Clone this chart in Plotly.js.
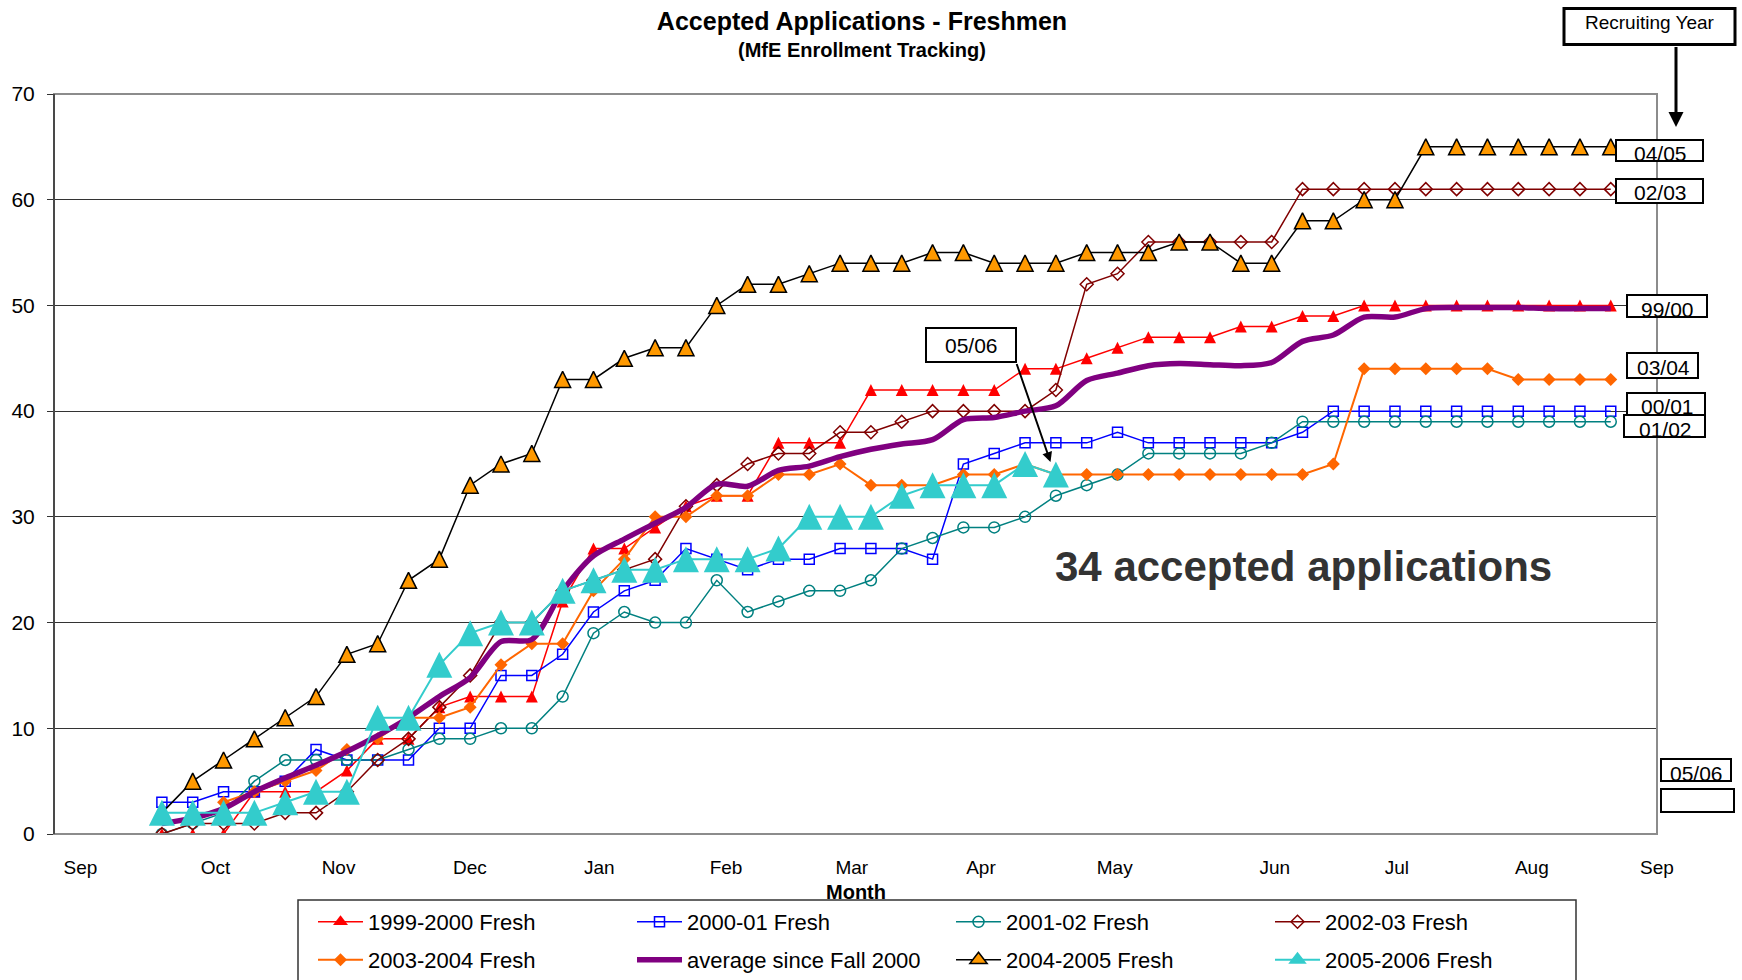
<!DOCTYPE html>
<html><head><meta charset="utf-8">
<script src="https://cdn.plot.ly/plotly-3.0.1.min.js"></script>
<style>html,body{margin:0;padding:0;background:#fff;} #chart{width:1742px;height:980px;}</style>
</head><body><div id="chart"></div>
<script>
// ---------- data (week index of the recruiting year, Sep = 0) ----------
const weeks = [3,4,5,6,7,8,9,10,11,12,13,14,15,16,17,18,19,20,21,22,23,24,25,26,27,28,29,30,31,32,33,34,35,36,37,38,39,40,41,42,43,44,45,46,47,48,49,50];
const monthLabels = ['Sep','Oct','Nov','Dec','Jan','Feb','Mar','Apr','May','Jun','Jul','Aug','Sep'];
const monthPos = [0.36,4.74,8.73,12.99,17.19,21.3,25.38,29.57,33.91,39.1,43.06,47.44,51.5];

const fresh9900 = [0,0,0,4,4,4,6,9,9,12, 13,13,13,22,27,27,29,31,32,32, 37,37,37,42,42,42,42,42,44,44, 45,46,47,47,47,48,48,49,49,50, 50,50,50,50,50,50,50,50];
const fresh0001 = [3,3,4,4,5,8,7,7,7,10, 10,15,15,17,21,23,24,27,26,25, 26,26,27,27,27,26,35,36,37,37, 37,38,37,37,37,37,37,38,40,40, 40,40,40,40,40,40,40,40];
const fresh0102 = [0,1,2,5,7,7,7,7,8,9, 9,10,10,13,19,21,20,20,24,21, 22,23,23,24,27,28,29,29,30,32, 33,34,36,36,36,36,37,39,39,39, 39,39,39,39,39,39,39,39];
const fresh0203 = [0,1,1,1,2,2,4,7,9,12, 15,20,20,23,24,25,26,31,33,35, 36,36,38,38,39,40,40,40,40,42, 52,53,56,56,56,56,56,61,61,61, 61,61,61,61,61,61,61,61];
const fresh0304 = [null,null,3,4,5,6,8,9,11,11, 12,16,18,18,23,26,30,30,32,32, 34,34,35,33,33,33,34,34,35,34, 34,34,34,34,34,34,34,34,35,44, 44,44,44,44,43,43,43,43];
const avgSince2000 = [1.0,1.5,2.4,4.0,5.3,6.5,7.8,9.3,11.0,13.0, 14.8,18.2,18.4,23.0,26.3,27.9,29.4,30.9,33.1,32.9, 34.4,34.8,35.7,36.4,36.9,37.3,39.2,39.4,40.0,40.5, 42.9,43.6,44.3,44.5,44.4,44.3,44.6,46.6,47.2,48.9, 48.9,49.7,49.8,49.8,49.8,49.7,49.7,49.7];
const fresh0405 = [2,5,7,9,11,13,17,18,24,26, 33,35,36,43,43,45,46,46,50,52, 52,53,54,54,54,55,55,54,54,54, 55,55,55,56,56,54,54,58,58,60, 60,65,65,65,65,65,65,65];
const fresh0506 = [2,2,2,2,3,4,4,11,11,16, 19,20,20,23,24,25,25,26,26,26, 27,30,30,30,32,33,33,33,35,34, null,null,null,null,null,null,null,null,null,null, null,null,null,null,null,null,null,null];

const seriesNames = ['1999-2000 Fresh','2000-01 Fresh','2001-02 Fresh','2002-03 Fresh','2003-2004 Fresh','average since Fall 2000','2004-2005 Fresh','2005-2006 Fresh'];
const seriesValues = [fresh9900, fresh0001, fresh0102, fresh0203, fresh0304, avgSince2000, fresh0405, fresh0506];

// ---------- helpers ----------
const FONT = 'Liberation Sans, Arial, sans-serif';
const L = 54, R = 85, T = 94, B = 146, W = 1742, H = 980;
const PW = W - L - R, PH = H - T - B;
const PX = x => (x - L) / PW;
const PY = y => (H - B - y) / PH;
// Excel-like upright triangle centred on the point
function tri(size) { return {symbol: 'arrow-down', angle: 180, standoff: size / 2, size: size}; }

const styles = [
  {mode: 'lines+markers', line: {color: '#FF0000', width: 1.5}, marker: Object.assign(tri(12), {color: '#FF0000'}),
   legMarker: {symbol: 'triangle-up', size: 13, color: '#FF0000'}, legend: 'legend'},
  {mode: 'lines+markers', line: {color: '#0000FF', width: 1.5}, marker: {symbol: 'square-open', size: 10, color: '#0000FF', line: {color: '#0000FF', width: 1.5}}, legend: 'legend'},
  {mode: 'lines+markers', line: {color: '#008080', width: 1.5}, marker: {symbol: 'circle-open', size: 11, color: '#008080', line: {color: '#008080', width: 1.5}}, legend: 'legend'},
  {mode: 'lines+markers', line: {color: '#800000', width: 1.5}, marker: {symbol: 'diamond-open', size: 10, color: '#800000', line: {color: '#800000', width: 1.5}}, legend: 'legend'},
  {mode: 'lines+markers', line: {color: '#FF6600', width: 2}, marker: {symbol: 'diamond', size: 10, color: '#FF6600'}, legend: 'legend2'},
  {mode: 'lines', line: {color: '#800080', width: 5.5, shape: 'spline', smoothing: 0.8}, legend: 'legend2'},
  {mode: 'lines+markers', line: {color: '#000000', width: 1.5}, marker: Object.assign(tri(16), {color: '#FF9900', line: {color: '#000000', width: 1.5}}),
   legMarker: {symbol: 'triangle-up', size: 15, color: '#FF9900', line: {color: '#000000', width: 1.5}}, legend: 'legend2'},
  {mode: 'lines+markers', line: {color: '#33CCCC', width: 2}, marker: Object.assign(tri(26), {color: '#33CCCC'}),
   legMarker: {symbol: 'triangle-up', size: 16, color: '#33CCCC'}, legend: 'legend2'}
];

const traces = [];
seriesNames.forEach((name, k) => {
  const s = styles[k];
  const t = {name: name, x: weeks, y: seriesValues[k], mode: s.mode, line: s.line, showlegend: false, legendgroup: name};
  if (s.marker) t.marker = s.marker;
  traces.push(t);
});
// legend entries (no data drawn; they only carry the legend symbols)
seriesNames.forEach((name, k) => {
  const s = styles[k];
  const t = {name: name, x: [null], y: [null], mode: s.mode, line: s.line, legend: s.legend, showlegend: true, legendgroup: name};
  const m = s.legMarker || s.marker;
  if (m) t.marker = m;
  traces.push(t);
});

function box(x0, y0, x1, y1, w) {
  return {type: 'rect', xref: 'paper', yref: 'paper', x0: PX(x0), x1: PX(x1), y0: PY(y1), y1: PY(y0),
          line: {color: '#000', width: w || 2}, fillcolor: '#fff', layer: 'above'};
}
function label(text, x, y, size, extra) {
  return Object.assign({text: text, xref: 'paper', yref: 'paper', x: PX(x), y: PY(y), xanchor: 'center', yanchor: 'middle',
          showarrow: false, font: {family: FONT, size: size, color: '#000'}}, extra || {});
}
function arrow(xh, yh, xt, yt, w) {
  return {text: ' ', xref: 'paper', yref: 'paper', x: PX(xh), y: PY(yh), ax: xt - xh, ay: yt - yh,
          showarrow: true, arrowhead: 2, arrowsize: 1, arrowwidth: w, arrowcolor: '#000', font: {size: 1}};
}

const shapes = [
  {type: 'rect', xref: 'paper', yref: 'paper', x0: 0, x1: 1, y0: 0, y1: 1, line: {color: '#8c8c8c', width: 2}, layer: 'above'},
  {type: 'line', xref: 'paper', yref: 'paper', x0: 0, x1: 0, y0: 0, y1: 1, line: {color: '#333', width: 1.5}, layer: 'above'},
  box(1564, 8.5, 1735, 44.5, 3),
  box(1616, 140, 1703, 161),
  box(1616, 179, 1703, 203),
  box(1627, 295, 1707, 317),
  box(1627, 353, 1698, 378),
  box(1627, 393, 1705, 415),
  box(1624, 415, 1705, 437),
  box(1661, 759, 1731, 781),
  box(1661, 789, 1734, 812),
  box(926, 328, 1016, 362),
  {type: 'rect', xref: 'paper', yref: 'paper', x0: PX(298), x1: PX(1576), y0: PY(995), y1: PY(900),
   line: {color: '#333', width: 1.5}, layer: 'above'}
];

const annotations = [
  label('<b>(MfE Enrollment Tracking)</b>', 862, 50, 20),
  label('Recruiting Year', 1650, 23, 19),
  label('04/05', 1660, 154, 21),
  label('02/03', 1660, 193, 21),
  label('99/00', 1667, 309, 21),
  label('03/04', 1663, 367, 21),
  label('00/01', 1667, 406, 21),
  label('01/02', 1665, 429, 21),
  label('05/06', 1696, 773, 21),
  label('05/06', 971, 345, 21),
  label('<b>34 accepted applications</b>', 1303, 566, 42, {font: {family: FONT, size: 42, color: '#333333'}}),
  label('<b>Month</b>', 856, 892, 20),
  arrow(1676, 127, 1676, 45, 3),
  arrow(1050.5, 462, 1016, 362, 2)
];

const legendBase = {orientation: 'h', xref: 'container', yref: 'container', x: 313 / W, xanchor: 'left', yanchor: 'middle',
           font: {family: FONT, size: 22, color: '#000'}, entrywidth: 259, entrywidthmode: 'pixels', itemwidth: 45,
           bgcolor: 'rgba(0,0,0,0)', borderwidth: 0, traceorder: 'normal'};

const layout = {
  width: W, height: H,
  margin: {l: L, r: R, t: T, b: B, pad: 0},
  paper_bgcolor: '#fff', plot_bgcolor: '#fff',
  font: {family: FONT, color: '#000'},
  title: {text: '<b>Accepted Applications - Freshmen</b>', xref: 'container', yref: 'container',
          x: 862 / W, xanchor: 'center', y: 1 - 21 / H, yanchor: 'middle', font: {family: FONT, size: 25, color: '#000'}},
  xaxis: {range: [-0.5, 51.5], tickmode: 'array', tickvals: monthPos, ticktext: monthLabels,
          showgrid: false, zeroline: false, showline: false, ticks: '', automargin: false,
          tickfont: {family: FONT, size: 19, color: '#000'}, ticklabelstandoff: 20},
  yaxis: {range: [0, 70], tickmode: 'linear', tick0: 0, dtick: 10, showgrid: true, gridcolor: '#333', gridwidth: 1,
          zeroline: false, showline: false, ticks: 'outside', ticklen: 6, tickcolor: '#333', automargin: false,
          tickfont: {family: FONT, size: 21, color: '#000'}, ticklabelstandoff: 8},
  legend: Object.assign({}, legendBase, {y: 1 - 922 / H}),
  legend2: Object.assign({}, legendBase, {y: 1 - 960 / H}),
  showlegend: true,
  hovermode: false,
  shapes: shapes,
  annotations: annotations
};

Plotly.newPlot('chart', traces, layout, {displayModeBar: false, staticPlot: true});
</script>
</body></html>
